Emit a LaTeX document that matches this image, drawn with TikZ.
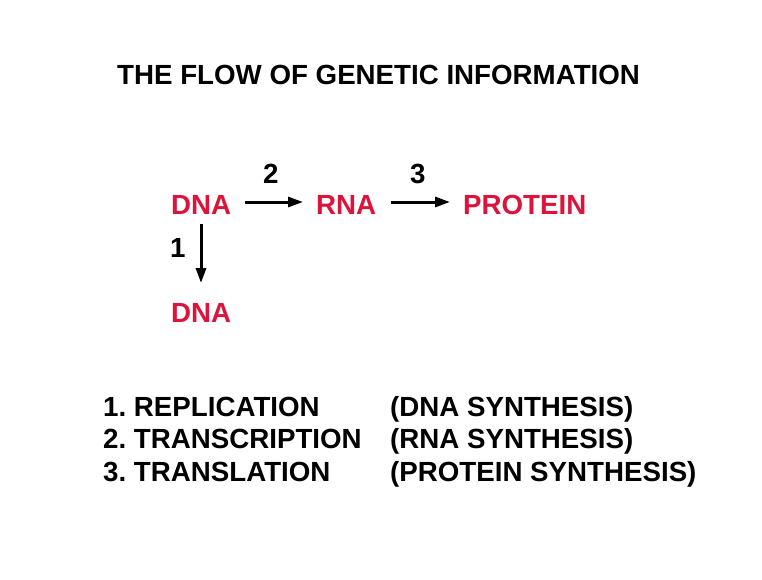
\documentclass[tikz,border=0pt]{standalone}
\usepackage{fontspec}
\setmainfont{Liberation Sans}
\usetikzlibrary{arrows.meta}
\definecolor{dnared}{HTML}{DC143C}
\frenchspacing
\tikzset{
  lbl/.style={inner sep=0pt, anchor=base west, font=\fontsize{27.7pt}{33pt}\selectfont\bfseries},
  molecule/.style={lbl, text=dnared},
  flow/.style={line width=3pt, -{Triangle[length=15pt,width=10pt]}}
}
\begin{document}
\begin{tikzpicture}[x=1pt,y=-1pt]
\useasboundingbox (0,0) rectangle (762,580);
\fill[white] (0,0) rectangle (762,580);
\node[lbl] (title) at (117,85) {THE FLOW OF GENETIC INFORMATION};
\node[molecule] (dna) at (171,214) {DNA};
\node[molecule] (rna) at (316,214) {RNA};
\node[molecule] (prot) at (463,214) {PROTEIN};
\node[molecule] (dna2) at (171,322) {DNA};
\node[lbl] (n2) at (263,183) {2};
\node[lbl] (n3) at (410,183) {3};
\node[lbl] (n1) at (170,257) {1};
\coordinate (a2s) at (245,202);
\coordinate (a2e) at (303,202);
\coordinate (a3s) at (391,202);
\coordinate (a3e) at (450,202);
\coordinate (a1s) at (201,224);
\coordinate (a1e) at (201,283);
\draw[flow] (a2s) -- (a2e);
\draw[flow] (a3s) -- (a3e);
\draw[flow] (a1s) -- (a1e);
\node[lbl] (l1) at (103,416) {1. REPLICATION};
\node[lbl] (l2) at (103,448) {2. TRANSCRIPTION};
\node[lbl] (l3) at (103,481) {3. TRANSLATION};
\node[lbl] (r1) at (390,416) {(DNA SYNTHESIS)};
\node[lbl] (r2) at (390,448) {(RNA SYNTHESIS)};
\node[lbl] (r3) at (390,481) {(PROTEIN SYNTHESIS)};
\end{tikzpicture}
\end{document}
